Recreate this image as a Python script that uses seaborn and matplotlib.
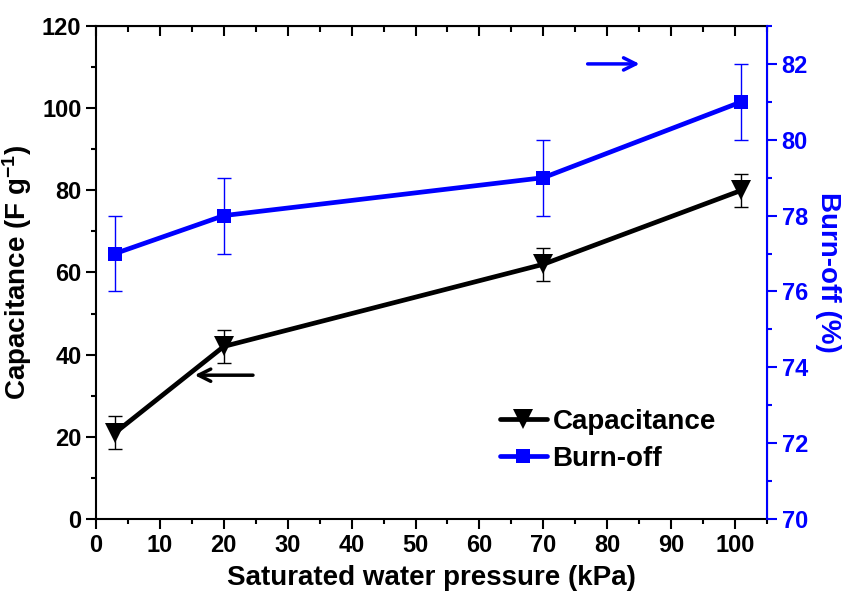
import matplotlib
matplotlib.use('Agg')
import matplotlib.pyplot as plt
import seaborn as sns
import pandas as pd
from matplotlib.ticker import MultipleLocator

# values
pressure = [3, 20, 70, 101]
capacitance = [21, 42, 62, 80]
cap_err = [4, 4, 4, 4]
burnoff = [77, 78, 79, 81]
burn_err = [1, 1, 1, 1]

x_ticks = [0, 10, 20, 30, 40, 50, 60, 70, 80, 90, 100]
left_ticks = [0, 20, 40, 60, 80, 100, 120]
right_ticks = [70, 72, 74, 76, 78, 80, 82]

sns.set_style('ticks')
plt.rcParams['font.family'] = ['Liberation Sans', 'DejaVu Sans']
plt.rcParams['font.weight'] = 'bold'
plt.rcParams['axes.labelweight'] = 'bold'
plt.rcParams['text.color'] = 'black'
plt.rcParams['axes.labelcolor'] = 'black'
plt.rcParams['xtick.color'] = 'black'
plt.rcParams['ytick.color'] = 'black'
plt.rcParams['axes.edgecolor'] = 'black'
plt.rcParams['mathtext.fontset'] = 'custom'
plt.rcParams['mathtext.rm'] = 'Liberation Sans:bold'
plt.rcParams['mathtext.default'] = 'rm'

df = pd.DataFrame({'pressure': pressure, 'capacitance': capacitance,
                   'cap_err': cap_err, 'burnoff': burnoff, 'burn_err': burn_err})

fig = plt.figure(figsize=(8.51, 5.99), dpi=100)
ax = fig.add_axes([0.1128, 0.1336, 0.7885, 0.823])
ax2 = ax.twinx()

blue = '#0000ff'

#capacitance on the left axis
ax.errorbar(df['pressure'], df['capacitance'], yerr=df['cap_err'], fmt='none',
            ecolor='black', elinewidth=1, capsize=5, capthick=1)
sns.lineplot(data=df, x='pressure', y='capacitance', ax=ax, color='black',
             linewidth=3.4, marker='v', markersize=14, markeredgewidth=0,
             label='Capacitance', legend=False)

#burn-off on the right axis
ax2.errorbar(df['pressure'], df['burnoff'], yerr=df['burn_err'], fmt='none',
             ecolor=blue, elinewidth=1, capsize=5, capthick=1)
sns.lineplot(data=df, x='pressure', y='burnoff', ax=ax2, color=blue,
             linewidth=3.4, marker='s', markersize=10, markeredgewidth=0,
             label='Burn-off', legend=False)

ax.set_xticks(x_ticks, [str(t) for t in x_ticks], fontweight='bold', fontsize=17)
ax.set_yticks(left_ticks, [str(t) for t in left_ticks], fontweight='bold', fontsize=17)
ax2.set_yticks(right_ticks, [str(t) for t in right_ticks], fontweight='bold',
               fontsize=17, color=blue)

ax.set_xlim(0, 105)
ax.set_ylim(0, 120)
ax2.set_ylim(70, 83)

ax.xaxis.set_minor_locator(MultipleLocator(5))
ax.yaxis.set_minor_locator(MultipleLocator(10))
ax2.yaxis.set_minor_locator(MultipleLocator(1))

ax.tick_params(which='major', direction='out', length=7, width=1.5)
ax.tick_params(which='minor', direction='out', length=3.5, width=1.5)
ax2.tick_params(which='major', direction='out', length=7, width=1.5, colors=blue)
ax2.tick_params(which='minor', direction='out', length=3.5, width=1.5, colors=blue)

# mirrored top ticks pointing inward
top = ax.secondary_xaxis('top')
top.xaxis.set_major_locator(MultipleLocator(10))
top.xaxis.set_minor_locator(MultipleLocator(5))
top.tick_params(which='major', direction='in', length=7, width=1.5, labeltop=False)
top.tick_params(which='minor', direction='in', length=4, width=1.5)
top.spines['top'].set_linewidth(1.5)

for s in ['left', 'bottom']:
    ax.spines[s].set_linewidth(1.5)
ax2.spines['right'].set_color(blue)
ax2.spines['right'].set_linewidth(1.5)
ax2.spines['left'].set_visible(False)
ax2.spines['top'].set_visible(False)
ax2.spines['bottom'].set_visible(False)

ax.set_xlabel('Saturated water pressure (kPa)', fontsize=20, fontweight='bold', labelpad=6)
ax.set_ylabel('Capacitance (F g$^{-1}$)', fontsize=20, fontweight='bold', labelpad=6)
ax2.set_ylabel('Burn-off (%)', fontsize=20, fontweight='bold', color=blue,
               rotation=270, labelpad=24)

# arrows pointing to the matching axis
ax.annotate('', xy=(15, 35), xytext=(25, 35),
            arrowprops=dict(arrowstyle='->', color='black', lw=2.5,
                            mutation_scale=22))
ax2.annotate('', xy=(85.5, 82), xytext=(76.5, 82),
             arrowprops=dict(arrowstyle='->', color=blue, lw=2.5,
                             mutation_scale=22))

h1, l1 = ax.get_legend_handles_labels()
h2, l2 = ax2.get_legend_handles_labels()
fig.legend(h1 + h2, l1 + l2, loc='center left', bbox_to_anchor=(0.571, 0.265),
           frameon=False, handlelength=1.7, handletextpad=0.2,
           labelspacing=0.4, borderpad=0, prop={'weight': 'bold', 'size': 20})

plt.savefig('out.png', dpi=100)
